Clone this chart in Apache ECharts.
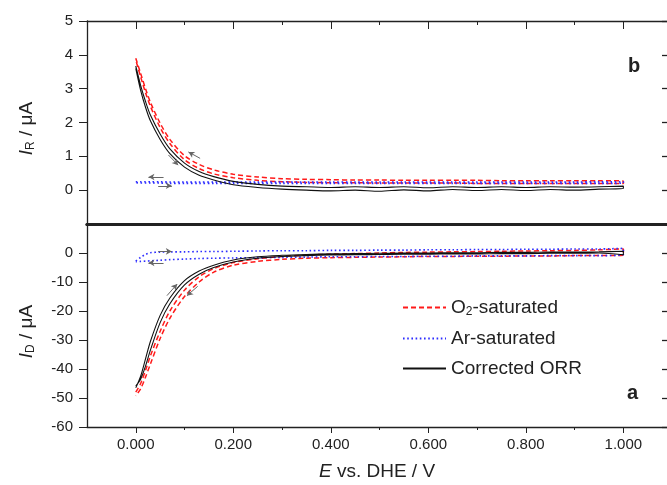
<!DOCTYPE html>
<html>
<head>
<meta charset="utf-8">
<script src="https://cdn.jsdelivr.net/npm/echarts@6/dist/echarts.min.js"></script>
<style>
  html, body { margin: 0; padding: 0; background: #fff; }
  #chart { width: 667px; height: 485px; }
</style>
</head>
<body>
<div id="chart"></div>
<script>
// potential grid shared by every branch (V vs. DHE)
const E = [0, 0.01, 0.02, 0.03, 0.05, 0.07, 0.10, 0.13, 0.16, 0.20, 0.25, 0.30, 0.35,
  0.40, 0.45, 0.50, 0.55, 0.60, 0.65, 0.70, 0.75, 0.80, 0.85, 0.90, 0.95, 1.00];

// ring current I_R (uA), panel b — two sweep branches each
const o2R_a = [3.9, 3.45, 3.0, 2.6, 1.98, 1.5, 1.02, 0.76, 0.6, 0.47, 0.39, 0.34, 0.32, 0.31, 0.30, 0.30, 0.29, 0.29, 0.29, 0.29, 0.28, 0.28, 0.28, 0.28, 0.28, 0.27];
const o2R_b = [3.85, 3.35, 2.88, 2.48, 1.85, 1.38, 0.9, 0.64, 0.48, 0.37, 0.29, 0.25, 0.23, 0.22, 0.22, 0.21, 0.21, 0.21, 0.21, 0.20, 0.20, 0.20, 0.20, 0.20, 0.20, 0.20];
const arR_a = [0.25, 0.25, 0.25, 0.25, 0.25, 0.24, 0.24, 0.24, 0.24, 0.24, 0.24, 0.24, 0.24, 0.24, 0.24, 0.24, 0.24, 0.24, 0.24, 0.24, 0.24, 0.24, 0.24, 0.24, 0.25, 0.25];
const arR_b = [0.22, 0.21, 0.21, 0.21, 0.21, 0.20, 0.20, 0.20, 0.20, 0.20, 0.20, 0.20, 0.20, 0.20, 0.20, 0.20, 0.20, 0.20, 0.20, 0.20, 0.20, 0.20, 0.20, 0.20, 0.20, 0.21];
const corR_a = [3.67, 3.1, 2.62, 2.22, 1.66, 1.22, 0.8, 0.55, 0.4, 0.26, 0.17, 0.12, 0.1, 0.08, 0.1, 0.08, 0.1, 0.07, 0.1, 0.08, 0.1, 0.08, 0.1, 0.09, 0.1, 0.12];
const corR_b = [3.6, 2.95, 2.45, 2.05, 1.5, 1.08, 0.68, 0.44, 0.3, 0.16, 0.08, 0.03, 0.0, -0.02, 0.0, -0.03, 0.01, -0.02, 0.02, -0.01, 0.02, -0.01, 0.02, 0.0, 0.03, 0.05];

// disk current I_D (uA), panel a
const o2D_a = [-48.0, -45.0, -40.5, -35.5, -27.0, -20.0, -12.8, -8.2, -5.4, -3.3, -2.0, -1.2, -0.7, -0.4, -0.2, 0.0, 0.2, 0.3, 0.4, 0.5, 0.6, 0.7, 0.8, 0.9, 1.1, 1.4];
const o2D_b = [-49.2, -46.8, -42.8, -38.3, -29.5, -22.5, -15.0, -10.0, -6.6, -4.2, -2.9, -2.2, -1.8, -1.6, -1.5, -1.4, -1.3, -1.2, -1.2, -1.1, -1.1, -1.0, -1.0, -0.9, -0.9, -0.8];
const arD_a = [-2.8, -1.5, -0.5, 0.1, 0.3, 0.4, 0.4, 0.5, 0.5, 0.6, 0.7, 0.8, 0.8, 0.9, 0.9, 1.0, 1.0, 1.1, 1.1, 1.2, 1.2, 1.3, 1.3, 1.4, 1.4, 1.6];
const arD_b = [-3.0, -2.9, -2.8, -2.7, -2.5, -2.3, -2.1, -1.9, -1.8, -1.7, -1.6, -1.5, -1.4, -1.3, -1.3, -1.2, -1.2, -1.1, -1.1, -1.0, -1.0, -1.0, -0.9, -0.9, -0.9, -0.5];
const corD_a = [-46.5, -42.5, -36.5, -30.5, -21.5, -15.5, -9.5, -6.2, -4.2, -2.4, -1.3, -0.8, -0.5, -0.3, -0.2, -0.1, 0.0, 0.0, 0.1, 0.1, 0.2, 0.2, 0.3, 0.3, 0.4, 0.6];
const corD_b = [-45.8, -43.5, -39.0, -33.5, -24.0, -17.5, -11.0, -7.3, -5.0, -3.1, -1.8, -1.2, -0.9, -0.7, -0.6, -0.5, -0.4, -0.4, -0.3, -0.3, -0.2, -0.2, -0.1, -0.1, 0.0, -0.6];

// sweep-direction arrows [from, to]
const arrowsR = [[[0.067, 1.04], [0.087, 0.74]], [[0.132, 0.94], [0.108, 1.13]],
  [[0.057, 0.39], [0.026, 0.39]], [[0.046, 0.13], [0.074, 0.13]]];
const arrowsD = [[[0.046, 0.55], [0.074, 0.55]], [[0.057, -3.4], [0.026, -3.4]],
  [[0.064, -14.7], [0.085, -10.7]], [[0.127, -11.5], [0.105, -14.7]]];

const xMajor = [0, 0.2, 0.4, 0.6, 0.8, 1.0];
const xMinor = [0.1, 0.3, 0.5, 0.7, 0.9];
const yTicksR = [0, 1, 2, 3, 4, 5];
const yTicksD = [-60, -50, -40, -30, -20, -10, 0];
const names = ['O2-saturated', 'Ar-saturated', 'Corrected ORR'];

const FONT = 'Liberation Sans, Arial, sans-serif';
const INK = '#222';
const PLOT_W = 580;
const X_MIN = -0.1, X_MAX = 1.0895;   // right frame edge sits on the picture border
const EDGE_TICK = 5 * (X_MAX - X_MIN) / PLOT_W;

// join the two branches into one closed loop
const loop = (a, b) => E.map((e, i) => [e, a[i]]).concat(E.map((e, i) => [e, b[i]]).reverse());

const chart = echarts.init(document.getElementById('chart'));

const line = (name, data, grid, style) => ({
  name, type: 'line', data, xAxisIndex: grid * 3, yAxisIndex: grid * 2,
  symbol: 'none', smooth: 0.3, clip: true, lineStyle: style, itemStyle: { color: style.color },
  z: name === 'Corrected ORR' ? 3 : 2
});
const redS = { color: '#ff1a1a', width: 1.5, type: [5, 3] };
const blueS = { color: '#2d2dff', width: 1.6, type: [1.6, 2.6] };
const blackS = { color: '#111', width: 1.1, type: 'solid' };

const arrowSeries = (arrows, grid) => ({
  type: 'line', data: [], xAxisIndex: grid * 3, yAxisIndex: grid * 2,
  markLine: {
    silent: true, animation: false, symbol: ['none', 'arrow'], symbolSize: [5, 6],
    label: { show: false }, lineStyle: { color: '#666', width: 1, type: 'solid' },
    data: arrows.map(a => [{ coord: a[0] }, { coord: a[1] }])
  }
});

// inward ticks of the right frame edge, placed at the tick values
const edgeTickSeries = (ticks, grid) => ({
  type: 'line', data: [], xAxisIndex: grid * 3, yAxisIndex: grid * 2,
  markLine: {
    silent: true, animation: false, symbol: ['none', 'none'],
    label: { show: false }, lineStyle: { color: INK, width: 1.3, type: 'solid' },
    data: ticks.map(v => [{ coord: [X_MAX - EDGE_TICK, v] }, { coord: [X_MAX, v] }])
  }
});

const axLine = w => ({ show: true, onZero: false, lineStyle: { color: INK, width: w } });
const noLine = { show: false, onZero: false };
const xBase = { type: 'value', min: X_MIN, max: X_MAX, splitLine: { show: false } };

const xAxis = [
  // top panel: divider, top major ticks, top minor ticks
  { ...xBase, gridIndex: 0, position: 'bottom', axisLine: axLine(3), axisTick: { show: false }, axisLabel: { show: false } },
  { ...xBase, gridIndex: 0, position: 'top', axisLine: axLine(1.3), axisTick: { inside: true, length: 8, customValues: xMajor, lineStyle: { color: INK } }, axisLabel: { show: false } },
  { ...xBase, gridIndex: 0, position: 'top', axisLine: noLine, axisTick: { inside: true, length: 4, customValues: xMinor, lineStyle: { color: INK } }, axisLabel: { show: false } },
  // bottom panel: labelled axis, minor ticks, divider
  { ...xBase, gridIndex: 1, position: 'bottom', axisLine: axLine(1.3),
    axisTick: { length: 6, customValues: xMajor, lineStyle: { color: INK } },
    axisLabel: { customValues: xMajor, margin: 10, color: INK, fontSize: 15, fontFamily: FONT, formatter: v => v.toFixed(3) },
    name: '{i|E}{n| vs. DHE / V}', nameLocation: 'middle', nameGap: 35,
    nameTextStyle: { color: INK, fontFamily: FONT, rich: { i: { fontSize: 19, fontStyle: 'italic', fontFamily: FONT, color: INK }, n: { fontSize: 19, fontFamily: FONT, color: INK } } } },
  { ...xBase, gridIndex: 1, position: 'bottom', axisLine: noLine, axisTick: { length: 3, customValues: xMinor, lineStyle: { color: INK } }, axisLabel: { show: false } },
  { ...xBase, gridIndex: 1, position: 'top', axisLine: axLine(3), axisTick: { show: false }, axisLabel: { show: false } }
];

const yName = sub => ({
  name: '{i|I}{s|' + sub + '}{n| / μA}', nameLocation: 'middle', nameGap: 50, nameRotate: 90,
  nameTextStyle: { color: INK, fontFamily: FONT, padding: [0, 12, 0, 0], rich: {
    i: { fontSize: 19, fontStyle: 'italic', fontFamily: FONT, color: INK },
    s: { fontSize: 12, fontFamily: FONT, color: INK, padding: [9, 0, 0, 0] },
    n: { fontSize: 19, fontFamily: FONT, color: INK } } }
});
const yLabel = vals => ({ customValues: vals, margin: 14, color: INK, fontSize: 15, fontFamily: FONT });
const rightAxis = (grid, min, max, step) => ({
  type: 'value', gridIndex: grid, position: 'right', min, max, interval: step,
  splitLine: { show: false }, axisLine: noLine, axisTick: { show: false }, axisLabel: { show: false }
});

const yAxis = [
  { type: 'value', gridIndex: 0, position: 'left', min: -1, max: 5, interval: 1, splitLine: { show: false },
    axisLine: axLine(1.3), axisTick: { length: 8, customValues: yTicksR, lineStyle: { color: INK } }, axisLabel: yLabel(yTicksR), ...yName('R') },
  rightAxis(0, -1, 5, 1),
  { type: 'value', gridIndex: 1, position: 'left', min: -60, max: 10, interval: 10, splitLine: { show: false },
    axisLine: axLine(1.3), axisTick: { length: 8, customValues: yTicksD, lineStyle: { color: INK } }, axisLabel: yLabel(yTicksD), ...yName('D') },
  rightAxis(1, -60, 10, 10)
];

chart.setOption({
  animation: false,
  backgroundColor: '#fff',
  textStyle: { fontFamily: FONT },
  grid: [
    { left: 87, top: 21, width: PLOT_W, height: 203 },
    { left: 87, top: 224, width: PLOT_W, height: 203 }
  ],
  title: [
    { text: 'b', left: 623, top: 51, textStyle: { fontSize: 20, fontWeight: 'bold', color: INK, fontFamily: FONT } },
    { text: 'a', left: 622, top: 378, textStyle: { fontSize: 20, fontWeight: 'bold', color: INK, fontFamily: FONT } }
  ],
  legend: {
    data: names, orient: 'vertical', left: 402, top: 298, padding: 0, itemWidth: 43, itemHeight: 14, itemGap: 11,
    selectedMode: false, itemStyle: { opacity: 0 },
    formatter: n => n === 'O2-saturated' ? '{n|O}{s|2}{n|-saturated}' : '{n|' + n + '}',
    textStyle: { color: INK, fontSize: 19, fontFamily: FONT, rich: {
      n: { fontSize: 19, fontFamily: FONT, color: INK },
      s: { fontSize: 12, fontFamily: FONT, color: INK, padding: [9, 0, 0, 0] } } }
  },
  xAxis, yAxis,
  series: [
    line(names[0], loop(o2R_a, o2R_b), 0, redS),
    line(names[1], loop(arR_a, arR_b), 0, blueS),
    line(names[2], loop(corR_a, corR_b), 0, blackS),
    line(names[0], loop(o2D_a, o2D_b), 1, redS),
    line(names[1], loop(arD_a, arD_b), 1, blueS),
    line(names[2], loop(corD_a, corD_b), 1, blackS),
    arrowSeries(arrowsR, 0),
    arrowSeries(arrowsD, 1),
    edgeTickSeries(yTicksR, 0),
    edgeTickSeries(yTicksD, 1)
  ]
});
</script>
</body>
</html>
